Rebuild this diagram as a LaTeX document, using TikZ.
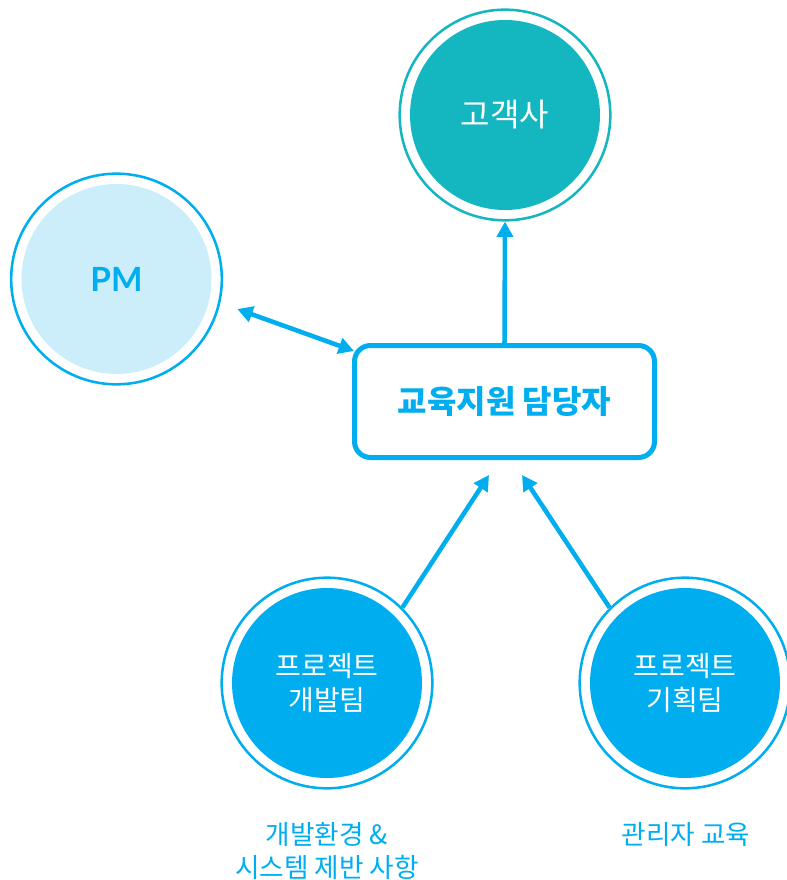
\documentclass[tikz,border=0pt]{standalone}
\usepackage{fontspec}
\setmainfont{Noto Sans CJK KR}
\newfontfamily\latofont{Lato}
\usetikzlibrary{arrows.meta,calc}
\definecolor{clientteal}{HTML}{14B6C0}
\definecolor{skyblue}{HTML}{00AEEF}
\definecolor{paleblue}{HTML}{CCEEFA}
\begin{document}
\begin{tikzpicture}[x=0.75pt,y=-0.75pt,
  ring/.style={circle,draw=#1,line width=1.9pt,minimum size=158pt,inner sep=0pt},
  disc/.style={circle,fill=#1,minimum size=142.5pt,inner sep=0pt,align=center,
    text=white,font=\fontsize{21}{26}\selectfont},
  note/.style={text=skyblue,align=center,font=\fontsize{20}{24.5}\selectfont},
  link/.style={skyblue,line width=3.4pt,-{Triangle[length=11.5pt,width=12pt]}},
  linkboth/.style={link,{Triangle[length=11.5pt,width=12pt]}-{Triangle[length=11.5pt,width=12pt]}}]
\useasboundingbox (0,0) rectangle (786,880);
% circles
\node[ring=clientteal] (clientring) at (505,115) {};
\node[disc=clientteal,font=\fontsize{24}{28}\selectfont] (client) at (505,115) {고객사};
\node[ring=skyblue] (pmring) at (116.5,279) {};
\node[disc=paleblue,text=skyblue,font=\latofont\bfseries\fontsize{25}{30}\selectfont] (pm) at (116.5,279) {PM};
\node[ring=skyblue] (devring) at (327,683) {};
\node[disc=skyblue] (dev) at (327,683) {프로젝트\\개발팀};
\node[ring=skyblue] (planring) at (685,683) {};
\node[disc=skyblue] (plan) at (685,683) {프로젝트\\기획팀};
% box
\node[draw=skyblue,line width=3.75pt,rounded corners=12pt,minimum width=225pt,minimum height=84pt,
  text=skyblue,font=\bfseries\fontsize{24}{28}\selectfont] (leader) at (504.5,401.5) {교육지원 담당자};
% notes
\node[note] (devnote) at (327,851) {개발환경 \&\\시스템 제반 사항};
\node[note] (plannote) at (686,835) {관리자 교육};
% arrows
\coordinate (tipL) at (489,475);
\coordinate (tipR) at (522,475);
\draw[link] (leader.north) -- (clientring.south);
\draw[linkboth,shorten <=13.5pt] (pmring.-13) -- ($(leader.north west)+(2,8)$);
\draw[link] (devring.45) -- (tipL);
\draw[link] (planring.135) -- (tipR);
\end{tikzpicture}
\end{document}
